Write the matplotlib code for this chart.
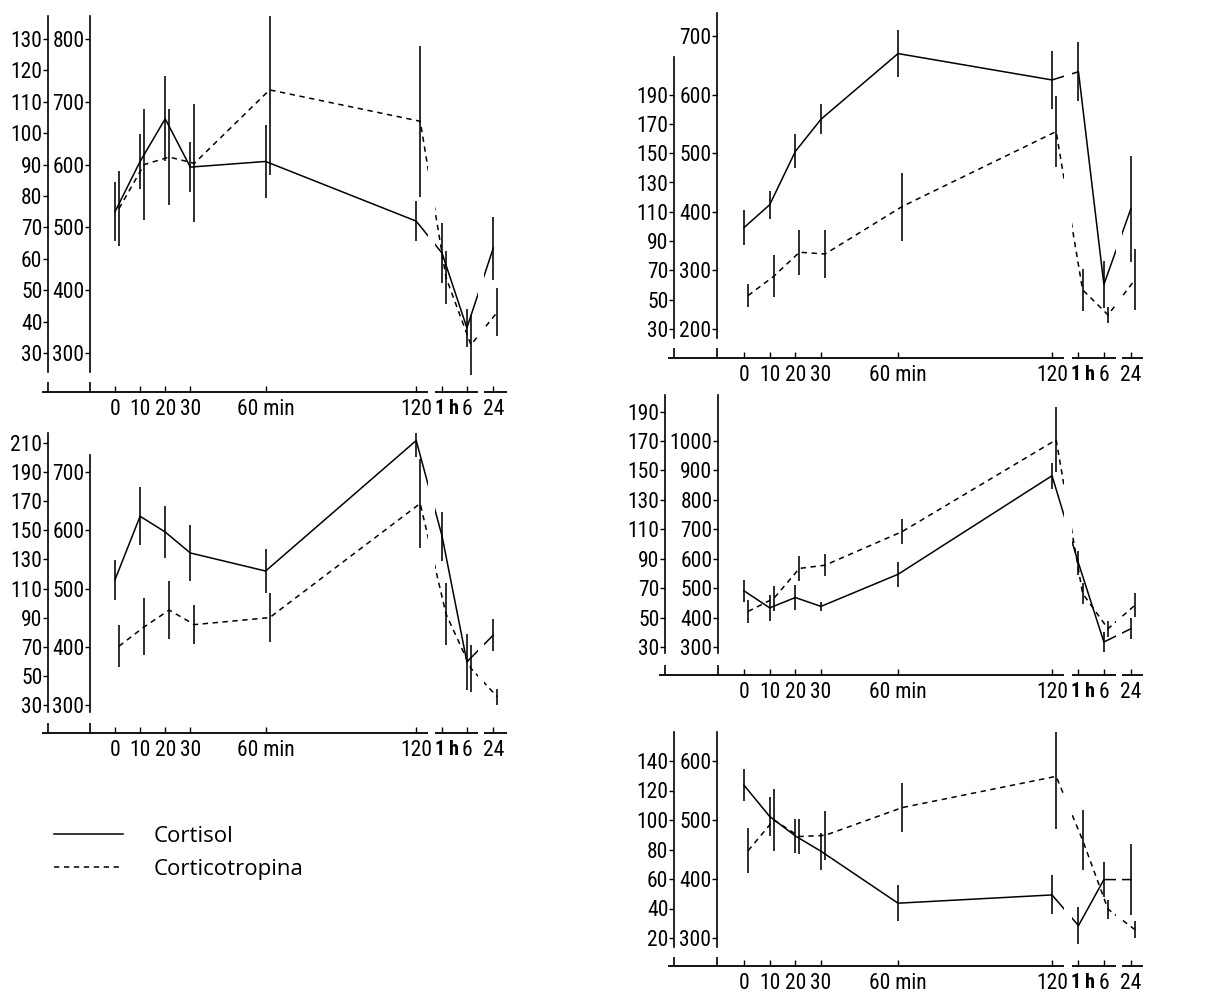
import matplotlib
matplotlib.use('Agg')
import matplotlib.pyplot as plt
from matplotlib import font_manager
from matplotlib.transforms import ScaledTranslation
from matplotlib.lines import Line2D

names = {f.name for f in font_manager.fontManager.ttflist}
NUMFONT = 'Liberation Sans'
for cand in ('Liberation Sans Narrow', 'Roboto Condensed'):
    if cand in names:
        NUMFONT = cand
        break
plt.rcParams['font.family'] = [NUMFONT, 'DejaVu Sans']

# ---------------- data ----------------
time_labels = ['0', '10', '20', '30', '60 min', '120', '1\u2009h', '6', '24']
# position of each sampling time on the broken time axis (minutes scale, then hours)
time_pos = [0, 10, 20, 30, 60, 120, 130.3, 140.2, 150.7]

# Panel A (top left)
cortisol_A = [525, 605, 673, 596, 605, 510, 459, 340, 467]
cortisol_A_err = [47, 44, 68, 40, 58, 32, 48, 30, 50]
acth_A = [76, 90, 92.4, 90.4, 113.8, 103.8, 54, 32.6, 43]
acth_A_err = [12, 17.6, 15.2, 18.8, 27, 24, 8.4, 9.6, 7.6]

# Panel B (bottom left)
cortisol_B = [515, 624, 597, 561, 530, 754, 590, 374, 420]
cortisol_B_err = [34, 50, 45, 48, 38, 28, 42, 48, 27]
acth_B = [70.4, 83.6, 95.2, 85.2, 90, 168.4, 92.4, 55.2, 35.6]
acth_B_err = [14.4, 19.6, 20, 13.2, 16.8, 30.4, 21.2, 16, 5.6]

# Panel C (top right)
cortisol_C = [373, 412, 503, 558, 670, 625, 639, 276, 405]
cortisol_C_err = [30, 24, 29, 26, 40, 50, 50, 40, 90]
acth_C = [52.8, 66, 82.4, 81.2, 113.6, 164.8, 56.8, 39.6, 63.6]
acth_C_err = [8, 14.4, 15.2, 16.4, 23.2, 24, 14.4, 5.2, 20.8]

# Panel D (middle right)
cortisol_D = [491, 433, 468, 438, 547, 882, 585, 317, 362]
cortisol_D_err = [38, 44, 42, 15, 42, 44, 42, 35, 35]
acth_D = [54.2, 63, 83.4, 85.6, 108.4, 170.8, 66.4, 42.4, 58.4]
acth_D_err = [8, 8.4, 8.4, 7.4, 8.4, 22, 7.2, 5.6, 8]

# Panel E (bottom right)
cortisol_E = [559, 506, 473, 447, 359, 373, 321, 399, 399]
cortisol_E_err = [27, 33, 29, 31, 30, 33, 31, 29, 60]
acth_E = [79.2, 100, 88.8, 89.6, 108.4, 129.6, 86.4, 39.6, 25.6]
acth_E_err = [15.2, 20.8, 11.6, 16.4, 16.4, 36, 20.4, 6.4, 5.6]

legend_labels = ['Cortisol', 'Corticotropina']

# ---------------- layout / style ----------------
W, H = 1232, 996
fig = plt.figure(figsize=(W / 100, H / 100), dpi=100)

GAPS = [(124.6, 127.6), (144.8, 147.2)]
DASH = (0, (3.5, 3.0))
DX = 1.6
FS = 15.5
LW = 1.1

geos = [
    dict(x0=115, ppm=2.51, outer=48, inner=90, xr=156, axis_y=392, sp_bot=372, stub=382,
         out_top=16, in_top=16, cal=((800, 39), (300, 353)), mp=(30, 0.2, 300),
         in_ticks=list(range(300, 801, 100)), out_ticks=list(range(30, 131, 10))),
    dict(x0=115, ppm=2.51, outer=48, inner=90, xr=156, axis_y=733, sp_bot=712, stub=723,
         out_top=433, in_top=455, cal=((700, 472), (300, 705)), mp=(30, 0.4, 300),
         in_ticks=list(range(300, 701, 100)), out_ticks=list(range(30, 211, 20))),
    dict(x0=744, ppm=2.567, outer=674, inner=717, xr=155.5, axis_y=358, sp_bot=338, stub=348,
         out_top=57, in_top=13, cal=((700, 36), (200, 329)), mp=(30, 0.4, 200),
         in_ticks=list(range(200, 701, 100)), out_ticks=list(range(30, 191, 20))),
    dict(x0=744, ppm=2.567, outer=665, inner=718, xr=155.5, axis_y=675, sp_bot=653, stub=665,
         out_top=395, in_top=395, cal=((1000, 441), (300, 647)), mp=(30, 0.2, 300),
         in_ticks=list(range(300, 1001, 100)), out_ticks=list(range(30, 191, 20))),
    dict(x0=744, ppm=2.567, outer=674, inner=717, xr=155.5, axis_y=966, sp_bot=947, stub=957,
         out_top=732, in_top=732, cal=((600, 761), (300, 938)), mp=(20, 0.4, 300),
         in_ticks=list(range(300, 601, 100)), out_ticks=list(range(20, 141, 20))),
]
series = [
    (cortisol_A, cortisol_A_err, acth_A, acth_A_err),
    (cortisol_B, cortisol_B_err, acth_B, acth_B_err),
    (cortisol_C, cortisol_C_err, acth_C, acth_C_err),
    (cortisol_D, cortisol_D_err, acth_D, acth_D_err),
    (cortisol_E, cortisol_E_err, acth_E, acth_E_err),
]


def make_panel(g, cort, cort_err, acth, acth_err):
    (vh, ph), (vl, pl) = g['cal']
    s = (vh - vl) / (pl - ph)
    v = lambda p: vl + (pl - p) * s
    a, b, c = g['mp']
    f = lambda u: a + b * (u - c)
    top = min(g['out_top'], g['in_top'])
    right_px = g['x0'] + g['xr'] * g['ppm']
    ax = fig.add_axes([g['outer'] / W, 1 - g['axis_y'] / H,
                       (right_px - g['outer']) / W, (g['axis_y'] - top) / H])
    ax.patch.set_visible(False)
    xl = (g['outer'] - g['x0']) / g['ppm']
    xi = (g['inner'] - g['x0']) / g['ppm']
    ax.set_xlim(xl, g['xr'])
    y0, y1 = v(g['axis_y']), v(top)
    ax.set_ylim(y0, y1)
    for sp in ('top', 'right', 'bottom'):
        ax.spines[sp].set_visible(False)
    ax.spines['left'].set_position(('data', xi))
    ax.spines['left'].set_bounds(v(g['sp_bot']), v(g['in_top']))
    ax.spines['left'].set_linewidth(1.2)
    ax.set_yticks(g['in_ticks'])
    ax.tick_params(axis='y', direction='out', length=3.5, width=1, labelsize=FS, pad=0.5)
    ax.set_xticks(time_pos, time_labels)
    ax.tick_params(axis='x', direction='in', length=4, width=1, labelsize=FS, pad=5)
    lab = ax.get_xticklabels()[6]
    lab.set_fontweight('bold')
    lab.set_fontsize(FS - 1)
    lab.set_horizontalalignment('left')
    lab.set_transform(lab.get_transform() + ScaledTranslation(-7 / 100, 0, fig.dpi_scale_trans))

    # broken time axis line
    segs = [(xl - 6 / g['ppm'], GAPS[0][0]), (GAPS[0][1], GAPS[1][0]), (GAPS[1][1], g['xr'])]
    for s0, s1 in segs:
        ax.plot([s0, s1], [y0, y0], color='k', lw=1.3, clip_on=False, solid_capstyle='butt')
    ys = v(g['stub'])
    for xx in (xl, xi):
        ax.plot([xx, xx], [y0, ys], color='k', lw=1.2, clip_on=False, solid_capstyle='butt')

    # cortisol (inner scale)
    ax.errorbar(time_pos, cort, yerr=cort_err, fmt='none', ecolor='k', elinewidth=1.15, capsize=0)
    ax.plot(time_pos, cort, color='k', lw=LW)

    # corticotropin (outer scale)
    ax2 = ax.twinx()
    ax2.set_ylim(f(y0), f(y1))
    for sp in ('top', 'right', 'bottom'):
        ax2.spines[sp].set_visible(False)
    ax2.spines['left'].set_visible(True)
    ax2.spines['left'].set_position(('axes', 0))
    ax2.spines['left'].set_bounds(f(v(g['sp_bot'])), f(v(g['out_top'])))
    ax2.spines['left'].set_linewidth(1.2)
    ax2.yaxis.tick_left()
    ax2.set_yticks(g['out_ticks'])
    ax2.tick_params(axis='y', direction='out', length=3.5, width=1, labelsize=FS, pad=0.5)
    xd = [t + DX for t in time_pos]
    ax2.errorbar(xd, acth, yerr=acth_err, fmt='none', ecolor='k', elinewidth=1.15, capsize=0)
    ax2.plot(xd, acth, color='k', lw=LW, ls=DASH)
    for g0, g1 in GAPS:
        ax2.axvspan(g0, g1, color='white', lw=0, zorder=10)
    ax2.set_xlim(xl, g['xr'])
    return ax, ax2


for g, sr in zip(geos, series):
    make_panel(g, *sr)

sol = Line2D([], [], color='k', lw=LW)
das = Line2D([], [], color='k', lw=LW, ls=DASH)
fig.legend([sol, das], legend_labels, loc='upper left',
           bbox_to_anchor=(54 / W, 1 - 826 / H), frameon=False,
           prop={'family': ['Open Sans', 'DejaVu Sans'], 'size': 16},
           handlelength=3.1, handletextpad=1.4, labelspacing=0.55,
           borderpad=0, borderaxespad=0)

fig.savefig('out.png', dpi=100, facecolor='white')
